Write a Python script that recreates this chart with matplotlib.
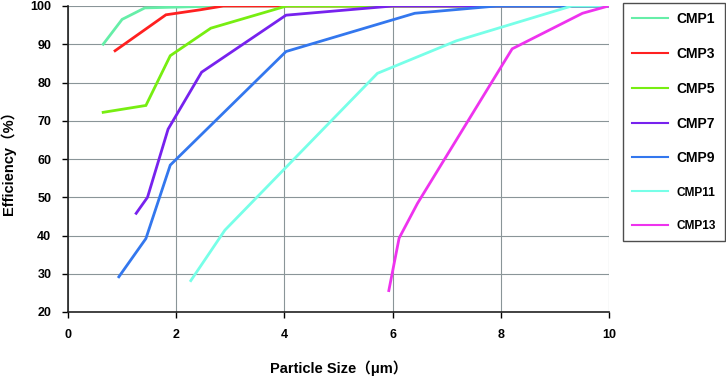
import matplotlib.pyplot as plt
from matplotlib.ticker import MultipleLocator

plt.rcParams['font.family'] = ['Liberation Sans', 'Noto Sans CJK SC', 'DejaVu Sans']

# series: particle size (um), efficiency (%)
cmp1_x = [0.65, 1.0, 1.42, 2.8, 10]
cmp1_y = [90.0, 96.5, 99.5, 100, 100]
cmp3_x = [0.87, 1.81, 2.44, 2.87, 10]
cmp3_y = [88.3, 97.7, 99.0, 100, 100]
cmp5_x = [0.65, 1.44, 1.89, 2.64, 4.04, 10]
cmp5_y = [72.2, 74.0, 87.0, 94.2, 100, 100]
cmp7_x = [1.26, 1.47, 1.85, 2.47, 4.03, 6.0, 10]
cmp7_y = [45.8, 50.0, 67.8, 82.7, 97.6, 100, 100]
cmp9_x = [0.94, 1.44, 1.89, 4.03, 6.41, 7.92, 10]
cmp9_y = [29.2, 39.2, 58.4, 88.1, 98.1, 100, 100]
cmp11_x = [2.27, 2.90, 5.72, 7.18, 9.31, 10]
cmp11_y = [28.2, 41.4, 82.4, 90.9, 100, 100]
cmp13_x = [5.93, 6.12, 6.46, 8.21, 9.51, 9.99]
cmp13_y = [25.6, 39.3, 48.4, 88.8, 98.1, 100]

series = [
    ("CMP1", cmp1_x, cmp1_y, "#66eea8"),
    ("CMP3", cmp3_x, cmp3_y, "#ff2020"),
    ("CMP5", cmp5_x, cmp5_y, "#77ee11"),
    ("CMP7", cmp7_x, cmp7_y, "#7722ee"),
    ("CMP9", cmp9_x, cmp9_y, "#3377ee"),
    ("CMP11", cmp11_x, cmp11_y, "#77ffe8"),
    ("CMP13", cmp13_x, cmp13_y, "#ee33ee"),
]

fig = plt.figure(figsize=(7.26, 3.91), dpi=100)
ax = fig.add_axes([68 / 726, 1 - 312 / 391, 541 / 726, 306 / 391])

for name, x, y, c in series:
    ax.plot(x, y, color=c, lw=2.0, label=name, solid_joinstyle='miter')

ax.set_xlim(0, 10)
ax.set_ylim(20, 100)
ax.xaxis.set_major_locator(MultipleLocator(2))
ax.yaxis.set_major_locator(MultipleLocator(10))
ax.grid(True, color="#8a9598", lw=0.8)
ax.set_axisbelow(True)
for s in ("top", "right"):
    ax.spines[s].set_visible(False)
for s in ("left", "bottom"):
    ax.spines[s].set_color("#222222")
    ax.spines[s].set_linewidth(1.2)
ax.tick_params(length=4, width=1, labelsize=9, pad=8)
for lab in ax.get_xticklabels() + ax.get_yticklabels():
    lab.set_fontweight("bold")

ax.set_xlabel("Particle Size（μm）", fontsize=10.5, fontweight="bold", labelpad=14)
ax.set_ylabel("Efficiency（%）", fontsize=10.5, fontweight="bold", labelpad=10)

handles, labels = ax.get_legend_handles_labels()
leg = fig.legend(handles, labels, loc="upper left",
                 bbox_to_anchor=(623 / 726, 1 - 3 / 391),
                 borderaxespad=0, frameon=True, fancybox=False,
                 edgecolor="#222222", handlelength=2.6, handletextpad=0.6,
                 labelspacing=1.5, borderpad=0.65,
                 prop={"weight": "bold", "size": 10})
leg.get_frame().set_linewidth(1.0)
for line in leg.get_lines():
    line.set_linewidth(1.5)
for t in leg.get_texts():
    if len(t.get_text()) > 4:
        t.set_fontsize(8.6)

fig.savefig("out.png", dpi=100)
